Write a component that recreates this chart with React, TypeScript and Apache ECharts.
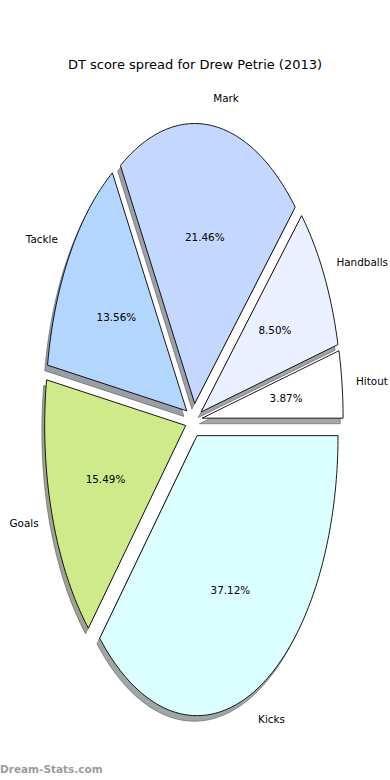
import React, { useEffect, useRef } from "react";
import * as echarts from "echarts";

const categories = ["Hitout", "Handballs", "Mark", "Tackle", "Goals", "Kicks"];
const values = [3.87, 8.5, 21.46, 13.56, 15.49, 37.12];
const sliceColors = ["#ffffff", "#eaf0ff", "#c4d8ff", "#b3d6ff", "#cfea8a", "#dbffff"];
const titleText = "DT score spread for Drew Petrie (2013)";
const watermark = "Dream-Stats.com";

const EXPLODE = 0.06;
const LABEL_DIST = 1.1;
const PCT_DIST = 0.6;
const SHADOW_DX = -0.02;
const SHADOW_DY = -0.02;

function shadowColor(hex: string): string {
  const r = parseInt(hex.slice(1, 3), 16);
  const g = parseInt(hex.slice(3, 5), 16);
  const b = parseInt(hex.slice(5, 7), 16);
  return `rgba(${Math.round(r * 0.3)},${Math.round(g * 0.3)},${Math.round(b * 0.3)},0.5)`;
}

export default function App() {
  const ref = useRef<HTMLDivElement>(null);

  useEffect(() => {
    document.body.style.margin = "0";
    if (!ref.current) return;
    const chart = echarts.init(ref.current, null, { renderer: "svg" });
    const total = values.reduce((a, b) => a + b, 0);

    const option: any = {
      animation: false,
      backgroundColor: "#ffffff",
      title: {
        text: titleText,
        left: "center",
        top: 53,
        textStyle: {
          fontFamily: "DejaVu Sans",
          fontSize: 13,
          fontWeight: "normal",
          color: "#000000",
        },
      },
      grid: { left: 10.4, width: 366.6, top: 84.2, height: 672 },
      xAxis: { type: "value", min: -1.3, max: 1.3, show: false },
      yAxis: { type: "value", min: -1.2, max: 1.2, show: false },
      graphic: [
        {
          type: "text",
          left: 0,
          top: 763,
          style: {
            text: watermark,
            fontFamily: "DejaVu Sans",
            fontSize: 10.5,
            fontWeight: "bold",
            fill: "#9c9c9c",
          },
        },
      ],
      series: [
        {
          type: "custom",
          coordinateSystem: "cartesian2d",
          clip: false,
          data: values.map((v, i) => [i, v]),
          renderItem: (params: any, api: any) => {
            const i = api.value(0);
            const v = api.value(1);
            let cum = 0;
            for (let k = 0; k < i; k++) cum += values[k];
            const a0 = (cum / total) * 2 * Math.PI;
            const a1 = ((cum + v) / total) * 2 * Math.PI;
            const am = (a0 + a1) / 2;
            const ox = EXPLODE * Math.cos(am);
            const oy = EXPLODE * Math.sin(am);
            const wedge = (dx: number, dy: number) => {
              const pts: number[][] = [api.coord([ox + dx, oy + dy])];
              const n = Math.max(6, Math.ceil(((a1 - a0) * 180) / Math.PI));
              for (let j = 0; j <= n; j++) {
                const t = a0 + ((a1 - a0) * j) / n;
                pts.push(api.coord([ox + dx + Math.cos(t), oy + dy + Math.sin(t)]));
              }
              return pts;
            };
            const color = sliceColors[i % sliceColors.length];
            const sc = shadowColor(color);
            const lx = ox + LABEL_DIST * Math.cos(am);
            const ly = oy + LABEL_DIST * Math.sin(am);
            const lp = api.coord([lx, ly]);
            const pp = api.coord([ox + PCT_DIST * Math.cos(am), oy + PCT_DIST * Math.sin(am)]);
            return {
              type: "group",
              children: [
                {
                  type: "polygon",
                  z2: 1,
                  shape: { points: wedge(SHADOW_DX, SHADOW_DY) },
                  style: { fill: sc, stroke: sc, lineWidth: 1 },
                },
                {
                  type: "polygon",
                  z2: 5,
                  shape: { points: wedge(0, 0) },
                  style: { fill: color, stroke: "#000000", lineWidth: 0.9, lineJoin: "miter" },
                },
                {
                  type: "text",
                  z2: 10,
                  x: lp[0],
                  y: lp[1],
                  style: {
                    text: categories[i],
                    fontFamily: "DejaVu Sans",
                    fontSize: 10.4,
                    fill: "#000000",
                    align: lx > 0 ? "left" : "right",
                    verticalAlign: "middle",
                  },
                },
                {
                  type: "text",
                  z2: 10,
                  x: pp[0],
                  y: pp[1],
                  style: {
                    text: ((v / total) * 100).toFixed(2) + "%",
                    fontFamily: "DejaVu Sans",
                    fontSize: 10.4,
                    fill: "#000000",
                    align: "center",
                    verticalAlign: "middle",
                  },
                },
              ],
            };
          },
        },
      ],
    };

    chart.setOption(option);
    return () => chart.dispose();
  }, []);

  return <div ref={ref} style={{ width: 390, height: 780 }} />;
}
